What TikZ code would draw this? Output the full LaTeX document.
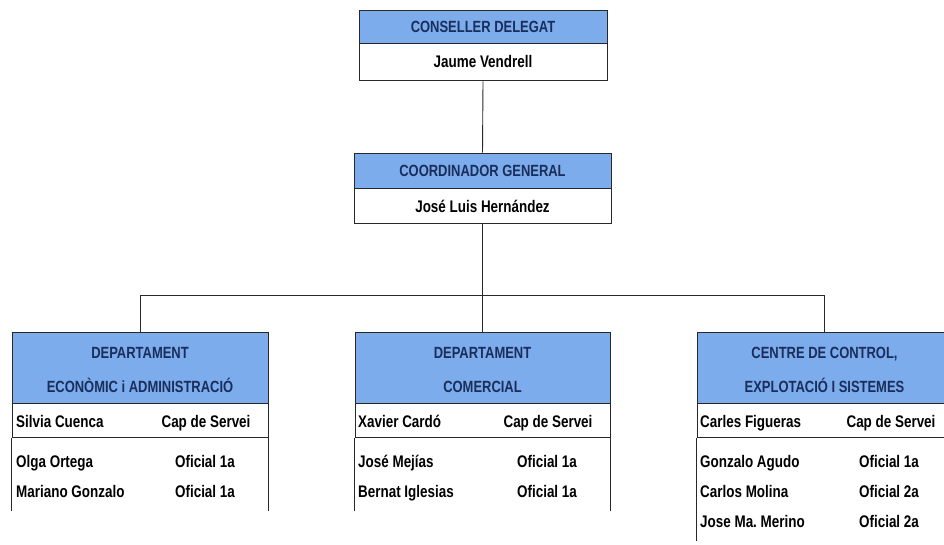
\documentclass[tikz,border=0pt]{standalone}
\usepackage{fontspec}
\newfontfamily\orgfont{Liberation Sans}[FakeStretch=0.8]
\definecolor{hdrblue}{RGB}{124,172,236}
\definecolor{hdrtext}{RGB}{26,46,92}
\definecolor{rule}{RGB}{40,40,40}
\frenchspacing
\begin{document}
\begin{tikzpicture}[x=1pt,y=-1pt,
  box/.style={draw=rule, line width=0.9pt, inner sep=0pt, text height=12pt, text depth=0pt},
  hdr/.style={box, fill=hdrblue, text=hdrtext, font=\orgfont\bfseries\fontsize{16.2}{20}\selectfont},
  body/.style={box, fill=white, font=\orgfont\bfseries\fontsize{16.6}{20}\selectfont},
  htxt/.style={inner sep=0pt, text height=12pt, text depth=0pt, text=hdrtext,
    font=\orgfont\bfseries\fontsize{16.2}{20}\selectfont},
  lbl/.style={inner sep=0pt, text height=12pt, text depth=0pt,
    font=\orgfont\bfseries\fontsize{16.8}{20}\selectfont},
  link/.style={draw=rule, line width=0.9pt},
  side/.style={draw=rule, line width=0.9pt}]
\useasboundingbox (0,0) rectangle (944,544);
\clip (0,0) rectangle (944,544);

% top of the organisation
\node[hdr, minimum width=248, minimum height=33] (cd) at (483,26.5) {CONSELLER DELEGAT};
\node[body, minimum width=248, minimum height=37, anchor=north] (cdb) at (cd.south) {};
\node[lbl] (cdn) at (483,61) {Jaume Vendrell};

\node[hdr, minimum width=257, minimum height=35] (cg) at (482.5,170.5) {COORDINADOR GENERAL};
\node[body, minimum width=257, minimum height=35, anchor=north] (cgb) at (cg.south) {};
\node[lbl] (cgn) at (482.5,206) {José Luis Hernández};

% departments: headers
\node[hdr, minimum width=256, minimum height=71] (d1) at (140,367.5) {};
\node[hdr, minimum width=255, minimum height=71] (d2) at (482.5,367.5) {};
\node[hdr, minimum width=255, minimum height=71] (d3) at (824.5,367.5) {};
\node[htxt] (d1a) at (140,352) {DEPARTAMENT};
\node[htxt] (d1b) at (140,386) {ECONÒMIC i ADMINISTRACIÓ};
\node[htxt] (d2a) at (482.5,352) {DEPARTAMENT};
\node[htxt] (d2b) at (482.5,386) {COMERCIAL};
\node[htxt] (d3a) at (824.5,352) {CENTRE DE CONTROL,};
\node[htxt] (d3b) at (824.5,386) {EXPLOTACIÓ I SISTEMES};

% departments: head-of-service rows
\node[box, minimum width=256, minimum height=34, anchor=north] (r1) at (d1.south) {};
\node[box, minimum width=255, minimum height=34, anchor=north] (r2) at (d2.south) {};
\node[box, minimum width=255, minimum height=34, anchor=north] (r3) at (d3.south) {};

% department staff
\node[lbl, anchor=west] (a1) at (16,421) {Silvia Cuenca};
\node[lbl] (a1r) at (206,421) {Cap de Servei};
\node[lbl, anchor=west] (a2) at (16,461) {Olga Ortega};
\node[lbl] (a2r) at (205,461) {Oficial 1a};
\node[lbl, anchor=west] (a3) at (16,491) {Mariano Gonzalo};
\node[lbl] (a3r) at (205,491) {Oficial 1a};

\node[lbl, anchor=west] (b1) at (358,421) {Xavier Cardó};
\node[lbl] (b1r) at (548,421) {Cap de Servei};
\node[lbl, anchor=west] (b2) at (358,461) {José Mejías};
\node[lbl] (b2r) at (547,461) {Oficial 1a};
\node[lbl, anchor=west] (b3) at (358,491) {Bernat Iglesias};
\node[lbl] (b3r) at (547,491) {Oficial 1a};

\node[lbl, anchor=west] (c1) at (700,421) {Carles Figueras};
\node[lbl] (c1r) at (891,421) {Cap de Servei};
\node[lbl, anchor=west] (c2) at (700,461) {Gonzalo Agudo};
\node[lbl] (c2r) at (889,461) {Oficial 1a};
\node[lbl, anchor=west] (c3) at (700,491) {Carlos Molina};
\node[lbl] (c3r) at (889,491) {Oficial 2a};
\node[lbl, anchor=west] (c4) at (700,521) {Jose Ma. Merino};
\node[lbl] (c4r) at (889,521) {Oficial 2a};

% side rules of the staff lists
\draw[side] (r1.south west) -- ++(0,73);
\draw[side] (r1.south east) -- ++(0,73);
\draw[side] (r2.south west) -- ++(0,73);
\draw[side] (r2.south east) -- ++(0,73);
\draw[side] (r3.south west) -- ++(0,103);

% connectors
\coordinate (bus) at (482.5,295);
\draw[link] (cdb.south) -- (cg.north);
\draw[link] (cgb.south) -- (d2.north);
\draw[link] (d1.north) -- (d1.north |- bus) -- (d3.north |- bus) -- (d3.north);
\end{tikzpicture}
\end{document}
